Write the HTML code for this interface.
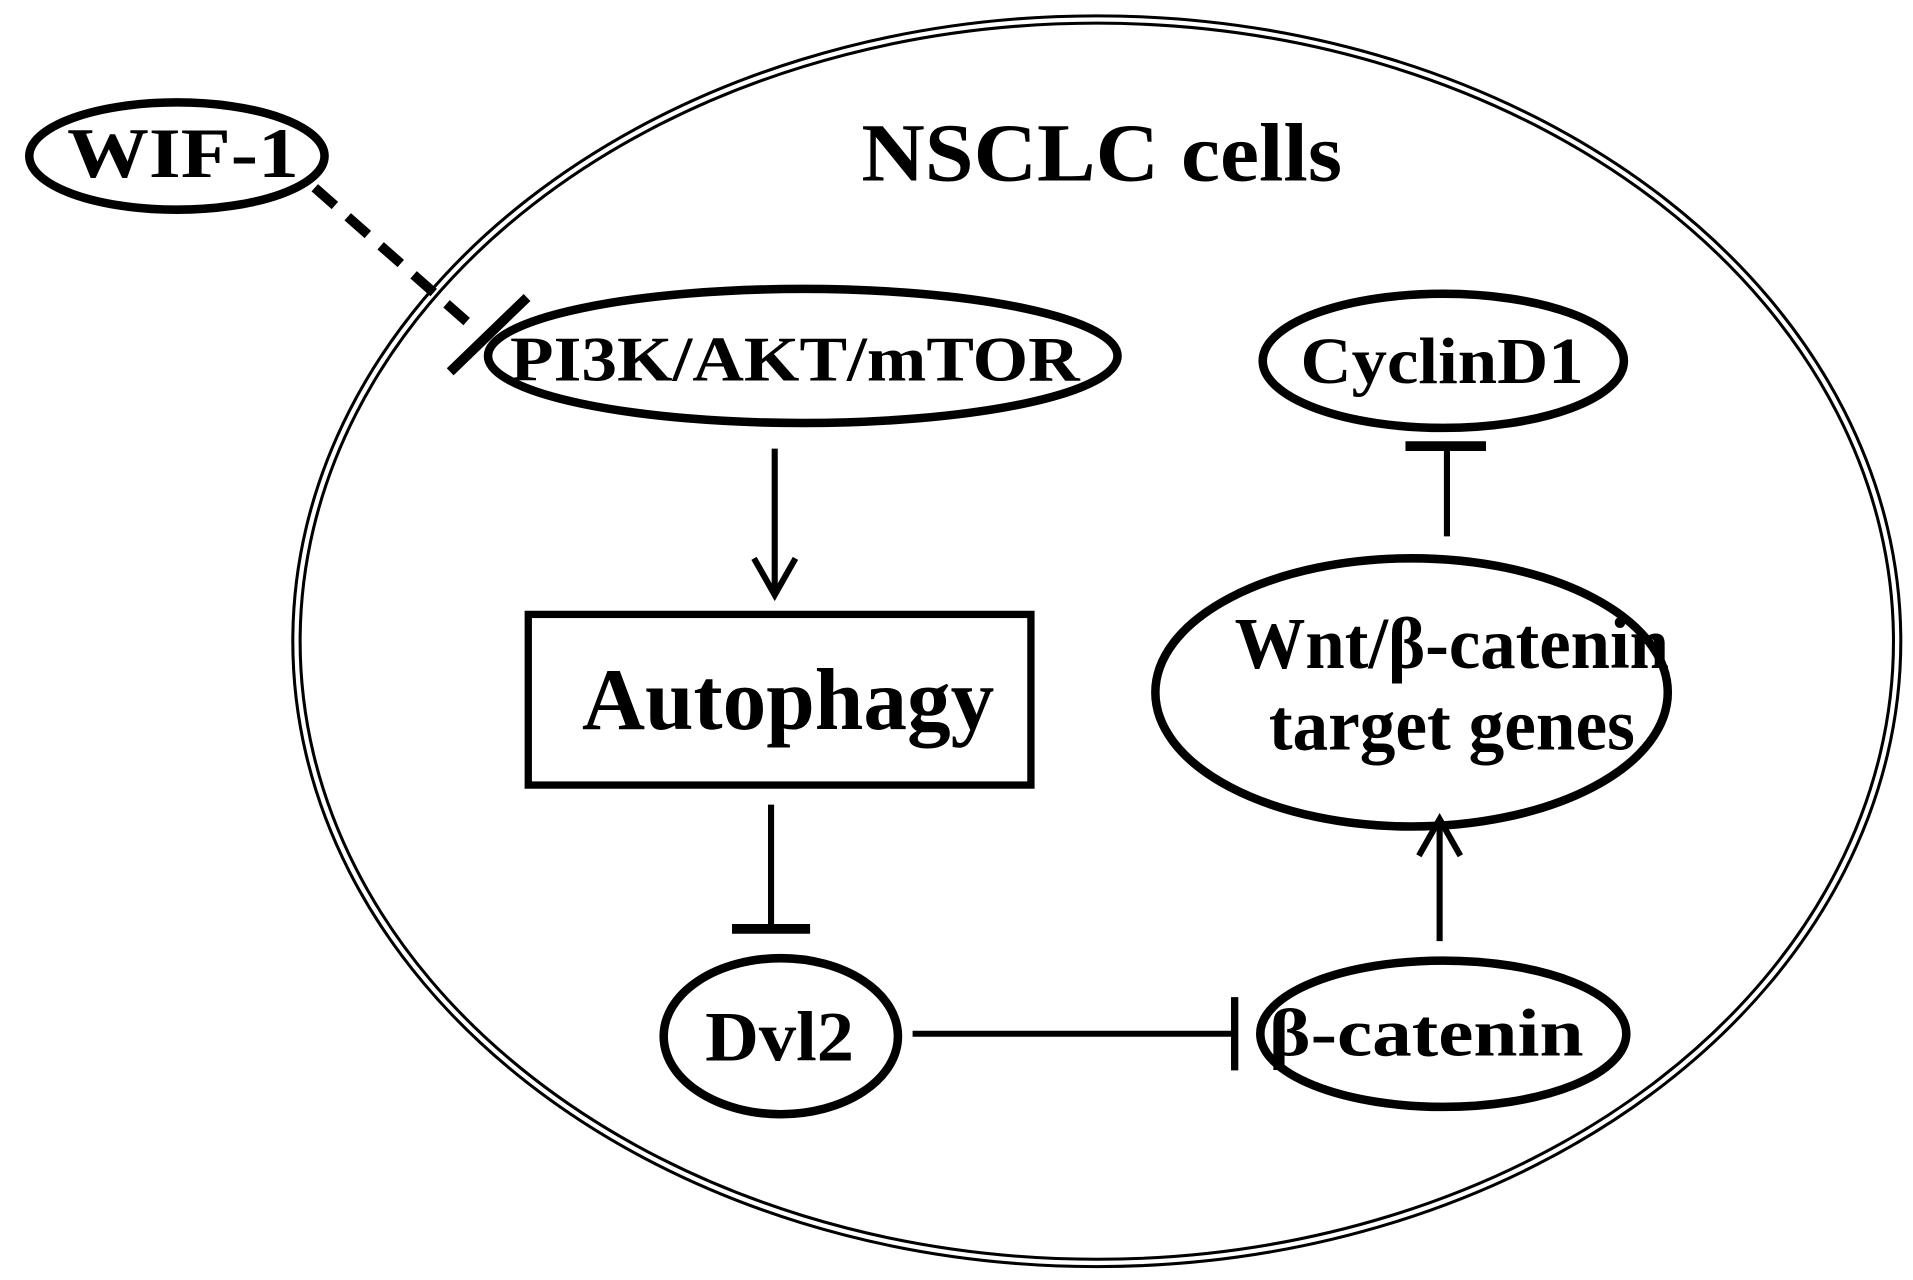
<!DOCTYPE html>
<html><head><meta charset="utf-8"><style>
html,body{margin:0;padding:0;background:#fff;}
svg{display:block;}
text{font-family:"Liberation Serif",serif;font-weight:bold;fill:#000;}
</style></head><body>
<svg width="1913" height="1280" viewBox="0 0 1568 1050" preserveAspectRatio="none" xmlns="http://www.w3.org/2000/svg">
<g fill="none" stroke="#000">
<ellipse cx="899" cy="526" rx="659" ry="513" stroke-width="2.5"/>
<ellipse cx="899" cy="526" rx="653" ry="507" stroke-width="2.5"/>
<ellipse cx="145" cy="128" rx="121" ry="44" stroke-width="7"/>
<line x1="258" y1="154" x2="385" y2="266" stroke-width="8" stroke-dasharray="22,14"/>
<line x1="369" y1="305" x2="432" y2="244" stroke-width="8"/>
<ellipse cx="658" cy="292" rx="258" ry="55" stroke-width="7"/>
<line x1="635" y1="368" x2="635" y2="484" stroke-width="5"/>
<polyline points="618,458 635,488 652,458" stroke-width="5"/>
<rect x="433" y="504" width="412" height="140" stroke-width="6"/>
<line x1="632" y1="660" x2="632" y2="760" stroke-width="5"/>
<line x1="600" y1="762" x2="664" y2="762" stroke-width="8"/>
<ellipse cx="640" cy="850" rx="96" ry="64" stroke-width="7"/>
<line x1="748" y1="848" x2="1010" y2="848" stroke-width="5"/>
<line x1="1012" y1="818" x2="1012" y2="878" stroke-width="6"/>
<ellipse cx="1183" cy="848" rx="150" ry="60" stroke-width="7"/>
<line x1="1180" y1="772" x2="1180" y2="676" stroke-width="5"/>
<polyline points="1163,702 1180,672 1197,702" stroke-width="5"/>
<ellipse cx="1157" cy="568" rx="210" ry="110" stroke-width="7"/>
<line x1="1186" y1="440" x2="1186" y2="368" stroke-width="5"/>
<line x1="1152" y1="366" x2="1218" y2="366" stroke-width="8"/>
<ellipse cx="1183" cy="296" rx="148" ry="55" stroke-width="7"/>
</g>
<text x="55" y="145" font-size="58" textLength="190" lengthAdjust="spacingAndGlyphs">WIF-1</text>
<text x="706" y="148" font-size="68" textLength="394" lengthAdjust="spacingAndGlyphs">NSCLC cells</text>
<text x="418" y="312" font-size="52" textLength="467" lengthAdjust="spacingAndGlyphs">PI3K/AKT/mTOR</text>
<text x="477" y="598" font-size="72" textLength="338" lengthAdjust="spacingAndGlyphs">Autophagy</text>
<text x="578" y="870" font-size="58" textLength="122" lengthAdjust="spacingAndGlyphs">Dvl2</text>
<text x="1040" y="866" font-size="56" textLength="258" lengthAdjust="spacingAndGlyphs">β-catenin</text>
<text x="1012" y="548" font-size="60" textLength="356" lengthAdjust="spacingAndGlyphs">Wnt/β-catenin</text>
<text x="1040" y="615" font-size="60" textLength="300" lengthAdjust="spacingAndGlyphs">target genes</text>
<text x="1066" y="314" font-size="54" textLength="232" lengthAdjust="spacingAndGlyphs">CyclinD1</text>
</svg>
</body></html>
